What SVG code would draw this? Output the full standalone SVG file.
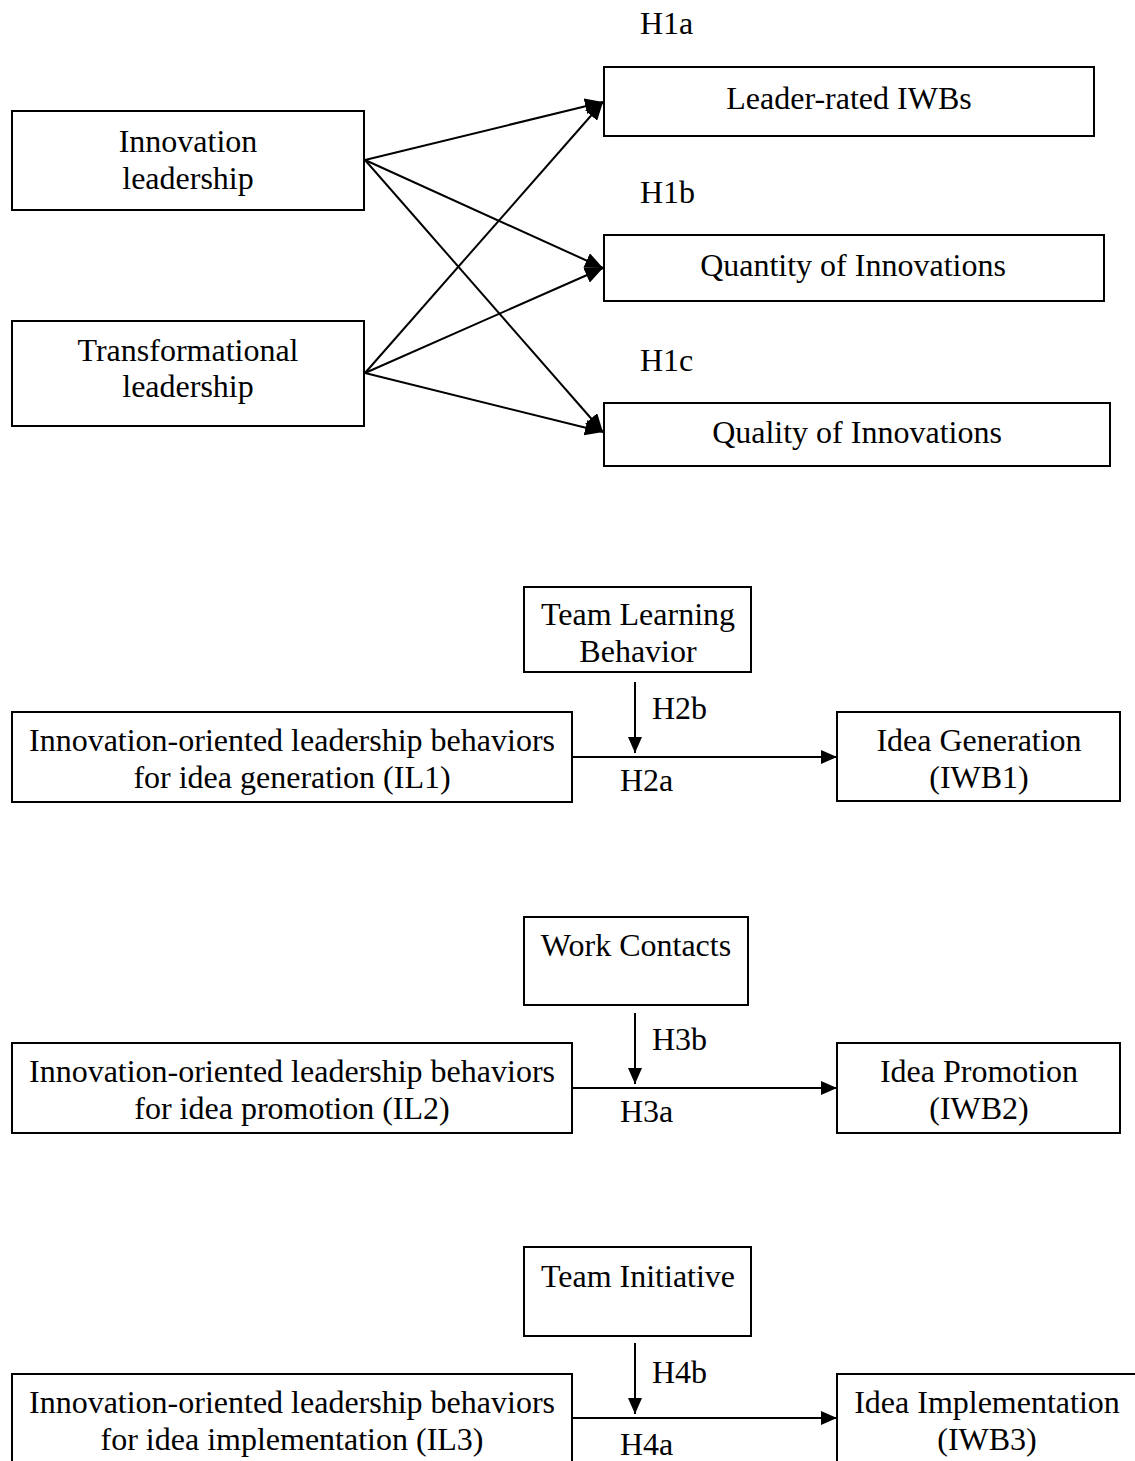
<svg xmlns="http://www.w3.org/2000/svg" width="1135" height="1461" viewBox="0 0 1135 1461">
<style>
.box{fill:#fff;stroke:#000;stroke-width:2}
.t{font-family:"Liberation Serif","Times New Roman",serif;font-size:32px;fill:#000}
.c{text-anchor:middle}
.ln{stroke:#000;stroke-width:2;fill:none}
</style>
<defs>
<marker id="ah" markerWidth="16" markerHeight="14" refX="16" refY="7" orient="auto" markerUnits="userSpaceOnUse">
<path d="M0,0 L16,7 L0,14 Z" fill="#000"/>
</marker>
<marker id="ah2" markerWidth="18" markerHeight="16" refX="18" refY="8" orient="auto" markerUnits="userSpaceOnUse">
<path d="M0,0 L18,8 L0,16 Z" fill="#000"/>
</marker>
</defs>
<rect width="1135" height="1461" fill="#fff"/>
<g id="connectors">
<line class="ln" x1="365" y1="160" x2="603" y2="102" marker-end="url(#ah2)"/>
<line class="ln" x1="365" y1="160" x2="603" y2="268" marker-end="url(#ah2)"/>
<line class="ln" x1="365" y1="160" x2="603" y2="432" marker-end="url(#ah2)"/>
<line class="ln" x1="365" y1="373" x2="603" y2="102" marker-end="url(#ah2)"/>
<line class="ln" x1="365" y1="373" x2="603" y2="268" marker-end="url(#ah2)"/>
<line class="ln" x1="365" y1="373" x2="603" y2="432" marker-end="url(#ah2)"/>
<line class="ln" x1="572" y1="757" x2="837" y2="757" marker-end="url(#ah)"/>
<line class="ln" x1="635" y1="682" x2="635" y2="753" marker-end="url(#ah)"/>
<line class="ln" x1="572" y1="1088" x2="837" y2="1088" marker-end="url(#ah)"/>
<line class="ln" x1="635" y1="1013" x2="635" y2="1084" marker-end="url(#ah)"/>
<line class="ln" x1="572" y1="1418" x2="837" y2="1418" marker-end="url(#ah)"/>
<line class="ln" x1="635" y1="1343" x2="635" y2="1414" marker-end="url(#ah)"/>
</g>
<g id="labels">
<text class="t" x="640" y="34">H1a</text>
<text class="t" x="640" y="203">H1b</text>
<text class="t" x="640" y="371">H1c</text>
<text class="t" x="652" y="719">H2b</text>
<text class="t" x="620" y="791">H2a</text>
<text class="t" x="652" y="1050">H3b</text>
<text class="t" x="620" y="1122">H3a</text>
<text class="t" x="652" y="1383">H4b</text>
<text class="t" x="620" y="1455">H4a</text>
</g>
<g id="n-innovation">
<rect class="box" x="12" y="111" width="352" height="99"/>
<text class="t c" x="188" y="152">Innovation</text>
<text class="t c" x="188" y="189">leadership</text>
</g>
<g id="n-transformational">
<rect class="box" x="12" y="321" width="352" height="105"/>
<text class="t c" x="188" y="361">Transformational</text>
<text class="t c" x="188" y="397">leadership</text>
</g>
<g id="n-leader">
<rect class="box" x="604" y="67" width="490" height="69"/>
<text class="t c" x="849" y="109">Leader-rated IWBs</text>
</g>
<g id="n-quantity">
<rect class="box" x="604" y="235" width="500" height="66"/>
<text class="t c" x="853" y="276">Quantity of Innovations</text>
</g>
<g id="n-quality">
<rect class="box" x="604" y="403" width="506" height="63"/>
<text class="t c" x="857" y="443">Quality of Innovations</text>
</g>
<g id="n-tlb">
<rect class="box" x="524" y="587" width="227" height="85"/>
<text class="t c" x="638" y="625">Team Learning</text>
<text class="t c" x="638" y="662">Behavior</text>
</g>
<g id="n-il1">
<rect class="box" x="12" y="712" width="560" height="90"/>
<text class="t c" x="292" y="751">Innovation-oriented leadership behaviors</text>
<text class="t c" x="292" y="788">for idea generation (IL1)</text>
</g>
<g id="n-iwb1">
<rect class="box" x="837" y="712" width="283" height="89"/>
<text class="t c" x="979" y="751">Idea Generation</text>
<text class="t c" x="979" y="788">(IWB1)</text>
</g>
<g id="n-wc">
<rect class="box" x="524" y="917" width="224" height="88"/>
<text class="t c" x="636" y="956">Work Contacts</text>
</g>
<g id="n-il2">
<rect class="box" x="12" y="1043" width="560" height="90"/>
<text class="t c" x="292" y="1082">Innovation-oriented leadership behaviors</text>
<text class="t c" x="292" y="1119">for idea promotion (IL2)</text>
</g>
<g id="n-iwb2">
<rect class="box" x="837" y="1043" width="283" height="90"/>
<text class="t c" x="979" y="1082">Idea Promotion</text>
<text class="t c" x="979" y="1119">(IWB2)</text>
</g>
<g id="n-ti">
<rect class="box" x="524" y="1247" width="227" height="89"/>
<text class="t c" x="638" y="1287">Team Initiative</text>
</g>
<g id="n-il3">
<rect class="box" x="12" y="1374" width="560" height="100"/>
<text class="t c" x="292" y="1413">Innovation-oriented leadership behaviors</text>
<text class="t c" x="292" y="1450">for idea implementation (IL3)</text>
</g>
<g id="n-iwb3">
<rect class="box" x="837" y="1374" width="310" height="100"/>
<text class="t c" x="987" y="1413">Idea Implementation</text>
<text class="t c" x="987" y="1450">(IWB3)</text>
</g>
</svg>
